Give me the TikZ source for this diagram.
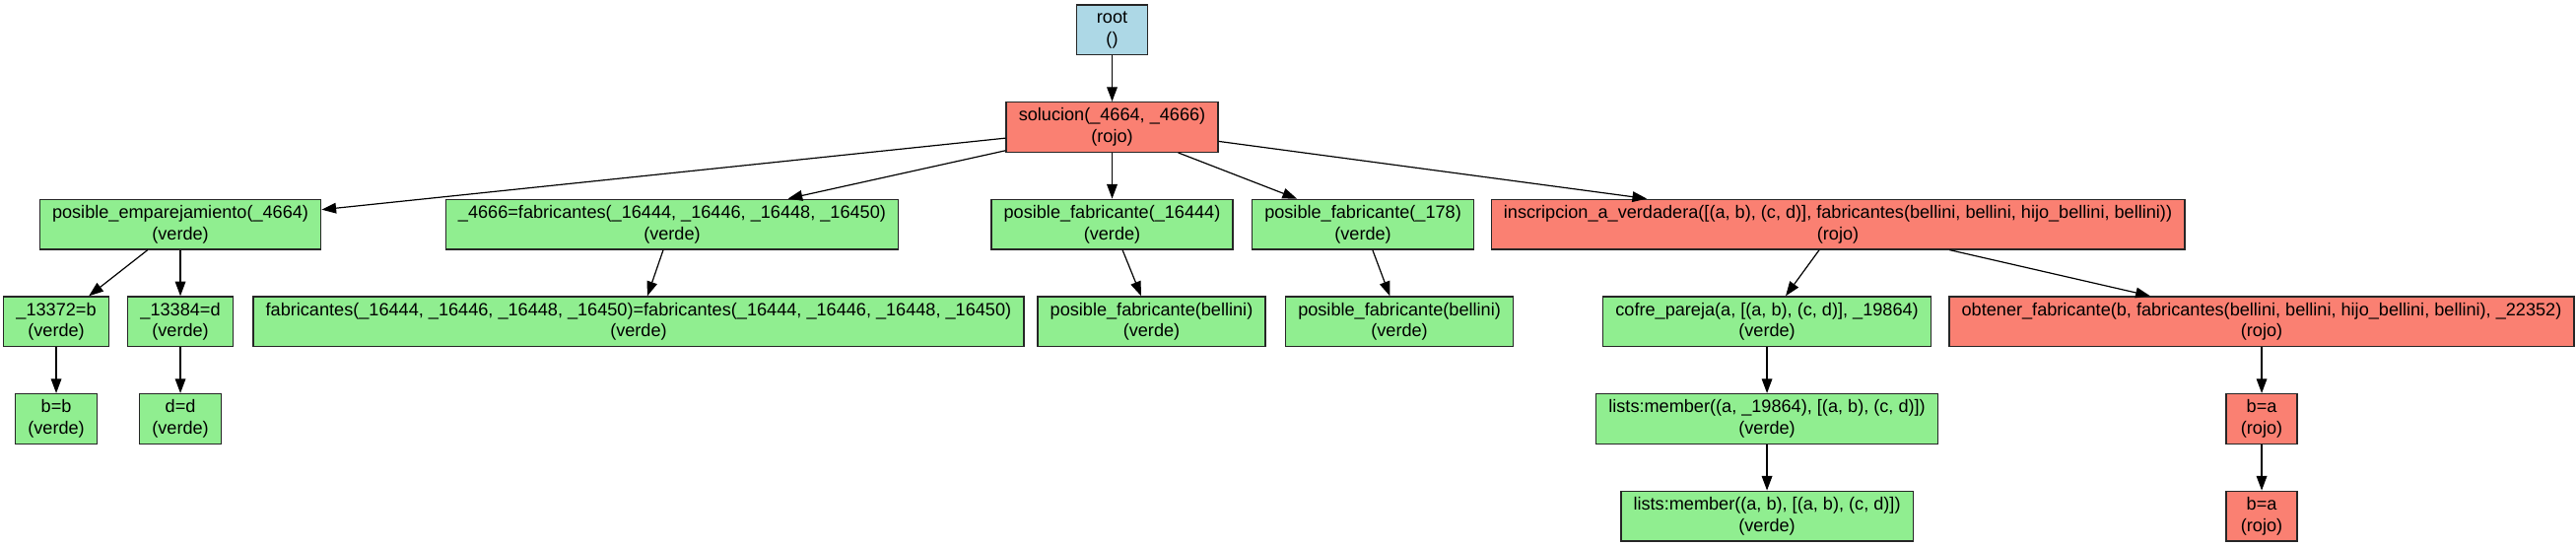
\documentclass[tikz,border=0pt]{standalone}
\usepackage{fontspec}
\setmainfont{Liberation Sans}
\usepackage{tikz}
\usetikzlibrary{arrows.meta,positioning}
\definecolor{lightblue}{HTML}{ADD8E6}
\definecolor{lightgreen}{HTML}{90EE90}
\definecolor{salmon}{HTML}{FA8072}

\begin{document}
\begin{tikzpicture}[>={Triangle[length=11pt,width=8pt]},auto,node distance=74pt,
                    line width=0.9pt]
  \tikzstyle{goal}=[rectangle,draw=black!85,line width=1pt,minimum width=54pt,
                    minimum height=38pt,inner xsep=9.5pt,align=center,
                    font=\fontsize{13.6pt}{16.3pt}\selectfont]
  \tikzstyle{raiz}=[goal,fill=lightblue]
  \tikzstyle{verde}=[goal,fill=lightgreen]
  \tikzstyle{rojo}=[goal,fill=salmon]

  \useasboundingbox (-846.4pt,22.7pt) rectangle (1114.1pt,-393.5pt);

  \node[raiz] (root)                              {root\\()};
  \node[rojo] (sol)  [below of=root]              {solucion(\_4664, \_4666)\\(rojo)};
  % second row
  \node[verde] (pe)   [below of=sol,xshift=-709.1pt] {posible\_emparejamiento(\_4664)\\(verde)};
  \node[verde] (fab)  [below of=sol,xshift=-334.9pt] {\_4666=fabricantes(\_16444, \_16446, \_16448, \_16450)\\(verde)};
  \node[verde] (pf1)  [below of=sol]                 {posible\_fabricante(\_16444)\\(verde)};
  \node[verde] (pf2)  [below of=sol,xshift=190.9pt]  {posible\_fabricante(\_178)\\(verde)};
  \node[rojo]  (insc) [below of=sol,xshift=552.4pt]  {inscripcion\_a\_verdadera([(a, b), (c, d)], fabricantes(bellini, bellini, hijo\_bellini, bellini))\\(rojo)};
  % third row
  \node[verde] (eqb)  [below of=pe,xshift=-94.5pt]   {\_13372=b\\(verde)};
  \node[verde] (eqd)  [below of=pe]                  {\_13384=d\\(verde)};
  \node[verde] (feq)  [below of=fab,xshift=-25.5pt]  {fabricantes(\_16444, \_16446, \_16448, \_16450)=fabricantes(\_16444, \_16446, \_16448, \_16450)\\(verde)};
  \node[verde] (pfb1) [below of=pf1,xshift=30pt]     {posible\_fabricante(bellini)\\(verde)};
  \node[verde] (pfb2) [below of=pf2,xshift=27.75pt]  {posible\_fabricante(bellini)\\(verde)};
  \node[verde] (cofre)[below of=insc,xshift=-54pt]   {cofre\_pareja(a, [(a, b), (c, d)], \_19864)\\(verde)};
  \node[rojo]  (obt)  [below of=insc,xshift=322.5pt] {obtener\_fabricante(b, fabricantes(bellini, bellini, hijo\_bellini, bellini), \_22352)\\(rojo)};
  % fourth and fifth rows
  \node[verde] (bb)   [below of=eqb]                 {b=b\\(verde)};
  \node[verde] (dd)   [below of=eqd]                 {d=d\\(verde)};
  \node[verde] (lm1)  [below of=cofre]               {lists:member((a, \_19864), [(a, b), (c, d)])\\(verde)};
  \node[rojo]  (ba1)  [below of=obt]                 {b=a\\(rojo)};
  \node[verde] (lm2)  [below of=lm1]                 {lists:member((a, b), [(a, b), (c, d)])\\(verde)};
  \node[rojo]  (ba2)  [below of=ba1]                 {b=a\\(rojo)};

  \draw[->]
        (root) edge (sol)
        (sol) edge (pe)
        (sol) edge (fab)
        (sol) edge (pf1)
        (sol) edge (pf2)
        (sol) edge (insc)
        (pe) edge (eqb)
        (pe) edge (eqd)
        (fab) edge (feq)
        (pf1) edge (pfb1)
        (pf2) edge (pfb2)
        (insc) edge (cofre)
        (insc) edge (obt)
        (eqb) edge (bb)
        (eqd) edge (dd)
        (cofre) edge (lm1)
        (lm1) edge (lm2)
        (obt) edge (ba1)
        (ba1) edge (ba2);
\end{tikzpicture}
\end{document}
